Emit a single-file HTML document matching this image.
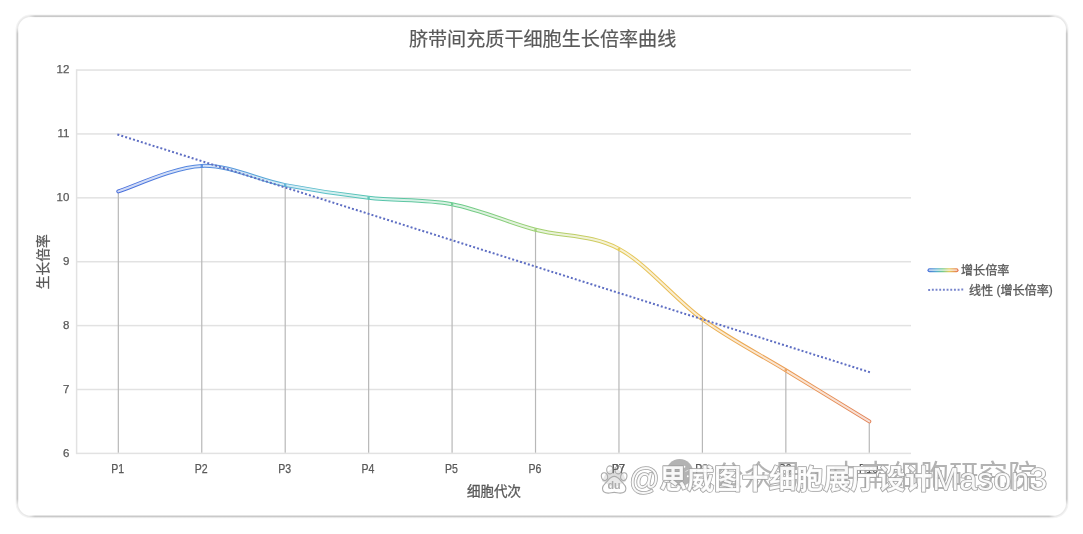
<!DOCTYPE html>
<html lang="zh">
<head>
<meta charset="utf-8">
<title>脐带间充质干细胞生长倍率曲线</title>
<style>
html,body{margin:0;padding:0;background:#fff;}
body{width:1083px;height:534px;overflow:hidden;font-family:"Liberation Sans",sans-serif;}
svg{display:block;}
.t{font-family:"Liberation Sans",sans-serif;font-size:12px;fill:#595959;stroke:#595959;stroke-width:0.25px;}
.w{font-family:"Liberation Sans",sans-serif;font-size:24px;fill:#fff;fill-opacity:0.9;stroke:#a2a2a2;stroke-width:1.6px;stroke-linejoin:round;paint-order:stroke;}
.c{font-family:"Liberation Sans","Noto Sans CJK SC",sans-serif;fill:#595959;stroke:#595959;}
</style>
</head>
<body>
<svg width="1083" height="534" viewBox="0 0 1083 534" style="will-change:transform">
<defs>
<linearGradient id="lg" gradientUnits="userSpaceOnUse" x1="118.3" y1="0" x2="869.3" y2="0">
<stop offset="0" stop-color="#4a6fdc"/>
<stop offset="0.111" stop-color="#558adf"/>
<stop offset="0.222" stop-color="#58b0d5"/>
<stop offset="0.28" stop-color="#5cc2c6"/>
<stop offset="0.333" stop-color="#55c3b2"/>
<stop offset="0.444" stop-color="#68ca8e"/>
<stop offset="0.555" stop-color="#9cd072"/>
<stop offset="0.666" stop-color="#e4cb5c"/>
<stop offset="0.777" stop-color="#ecb450"/>
<stop offset="0.888" stop-color="#eb9d56"/>
<stop offset="1" stop-color="#e2845a"/>
</linearGradient>
<linearGradient id="lgl" gradientUnits="userSpaceOnUse" x1="927.5" y1="0" x2="958.5" y2="0">
<stop offset="0" stop-color="#4a6fdc"/>
<stop offset="0.3" stop-color="#56b0cc"/>
<stop offset="0.5" stop-color="#78cc88"/>
<stop offset="0.7" stop-color="#e4cb5c"/>
<stop offset="1" stop-color="#e8704e"/>
</linearGradient>
<linearGradient id="eh" x1="0" y1="0" x2="1" y2="0">
<stop offset="0" stop-color="#c9c9c9" stop-opacity="0"/><stop offset="0.006" stop-color="#c9c9c9"/><stop offset="0.994" stop-color="#c9c9c9"/><stop offset="1" stop-color="#c9c9c9" stop-opacity="0"/>
</linearGradient>
<linearGradient id="ev" x1="0" y1="0" x2="0" y2="1">
<stop offset="0" stop-color="#c9c9c9" stop-opacity="0"/><stop offset="0.0125" stop-color="#c9c9c9"/><stop offset="0.9875" stop-color="#c9c9c9"/><stop offset="1" stop-color="#c9c9c9" stop-opacity="0"/>
</linearGradient>
</defs>
<rect x="17.4" y="16.25" width="1049.30" height="500.15" rx="13.5" ry="13.5" fill="none" stroke="#f3f3f3" stroke-width="3.6"/>
<rect x="17.4" y="16.25" width="1049.30" height="500.15" rx="13.5" ry="13.5" fill="#fff" stroke="#e9e9e9" stroke-width="1.3"/>
<rect x="28.90" y="15.40" width="1026.30" height="1.7" fill="url(#eh)"/>
<rect x="28.90" y="515.55" width="1026.30" height="1.7" fill="url(#eh)"/>
<rect x="16.55" y="27.75" width="1.7" height="477.15" fill="url(#ev)"/>
<rect x="1065.85" y="27.75" width="1.7" height="477.15" fill="url(#ev)"/>
<rect x="76.6" y="452.64" width="834.4" height="1.5" fill="#e2e2e2"/>
<rect x="76.6" y="388.75" width="834.4" height="1.5" fill="#e2e2e2"/>
<rect x="76.6" y="324.86" width="834.4" height="1.5" fill="#e2e2e2"/>
<rect x="76.6" y="260.97" width="834.4" height="1.5" fill="#e2e2e2"/>
<rect x="76.6" y="197.08" width="834.4" height="1.5" fill="#e2e2e2"/>
<rect x="76.6" y="133.19" width="834.4" height="1.5" fill="#e2e2e2"/>
<rect x="76.6" y="69.30" width="834.4" height="1.5" fill="#e2e2e2"/>
<rect x="75.85" y="69.30" width="1.5" height="384.84" fill="#e2e2e2"/>
<rect x="117.72" y="191.44" width="1.2" height="261.25" fill="#b8b8b8"/>
<rect x="201.16" y="165.88" width="1.2" height="286.81" fill="#b8b8b8"/>
<rect x="284.60" y="185.05" width="1.2" height="267.64" fill="#b8b8b8"/>
<rect x="368.04" y="197.83" width="1.2" height="254.86" fill="#b8b8b8"/>
<rect x="451.48" y="204.22" width="1.2" height="248.47" fill="#b8b8b8"/>
<rect x="534.92" y="229.77" width="1.2" height="222.92" fill="#b8b8b8"/>
<rect x="618.36" y="248.94" width="1.2" height="203.75" fill="#b8b8b8"/>
<rect x="701.80" y="319.22" width="1.2" height="133.47" fill="#b8b8b8"/>
<rect x="785.24" y="370.33" width="1.2" height="82.36" fill="#b8b8b8"/>
<rect x="868.68" y="421.44" width="1.2" height="31.25" fill="#b8b8b8"/>
<text x="69.4" y="456.74" text-anchor="end" class="t" style="font-size:11.5px">6</text>
<text x="69.4" y="392.85" text-anchor="end" class="t" style="font-size:11.5px">7</text>
<text x="69.4" y="328.96" text-anchor="end" class="t" style="font-size:11.5px">8</text>
<text x="69.4" y="265.07" text-anchor="end" class="t" style="font-size:11.5px">9</text>
<text x="69.4" y="201.18" text-anchor="end" class="t" style="font-size:11.5px">10</text>
<text x="69.4" y="137.29" text-anchor="end" class="t" style="font-size:11.5px">11</text>
<text x="69.4" y="73.40" text-anchor="end" class="t" style="font-size:11.5px">12</text>
<text x="117.72" y="472.7" text-anchor="middle" class="t" textLength="12.9" lengthAdjust="spacingAndGlyphs">P1</text>
<text x="201.16" y="472.7" text-anchor="middle" class="t" textLength="12.9" lengthAdjust="spacingAndGlyphs">P2</text>
<text x="284.60" y="472.7" text-anchor="middle" class="t" textLength="12.9" lengthAdjust="spacingAndGlyphs">P3</text>
<text x="368.04" y="472.7" text-anchor="middle" class="t" textLength="12.9" lengthAdjust="spacingAndGlyphs">P4</text>
<text x="451.48" y="472.7" text-anchor="middle" class="t" textLength="12.9" lengthAdjust="spacingAndGlyphs">P5</text>
<text x="534.92" y="472.7" text-anchor="middle" class="t" textLength="12.9" lengthAdjust="spacingAndGlyphs">P6</text>
<text x="618.36" y="472.7" text-anchor="middle" class="t" textLength="12.9" lengthAdjust="spacingAndGlyphs">P7</text>
<text x="701.80" y="472.7" text-anchor="middle" class="t" textLength="12.9" lengthAdjust="spacingAndGlyphs">P8</text>
<text x="785.24" y="472.7" text-anchor="middle" class="t" textLength="12.9" lengthAdjust="spacingAndGlyphs">P9</text>
<text x="868.68" y="472.7" text-anchor="middle" class="t" textLength="19.2" lengthAdjust="spacingAndGlyphs">P10</text>
<path d="M118.3 191.4C132.2 187.2 173.9 166.9 201.8 165.9C229.6 164.8 257.4 179.7 285.2 185.1C313 190.4 340.8 194.6 368.6 197.8C396.5 201 424.3 198.9 452.1 204.2C479.9 209.5 507.7 222.3 535.5 229.8C563.3 237.2 591.1 234 619 248.9C646.8 263.8 674.6 299 702.4 319.2C730.2 339.5 758 353.3 785.8 370.3C813.7 387.4 855.4 412.9 869.3 421.4" fill="none" stroke="url(#lg)" stroke-width="4" stroke-linecap="round" stroke-linejoin="round"/>
<path d="M118.3 191.4C132.2 187.2 173.9 166.9 201.8 165.9C229.6 164.8 257.4 179.7 285.2 185.1C313 190.4 340.8 194.6 368.6 197.8C396.5 201 424.3 198.9 452.1 204.2C479.9 209.5 507.7 222.3 535.5 229.8C563.3 237.2 591.1 234 619 248.9C646.8 263.8 674.6 299 702.4 319.2C730.2 339.5 758 353.3 785.8 370.3C813.7 387.4 855.4 412.9 869.3 421.4" fill="none" stroke="#fff" stroke-opacity="0.74" stroke-width="2" stroke-linecap="round"/>
<rect x="200.6" y="164.7" width="2.4" height="2.4" fill="url(#lg)" opacity="0.9"/>
<rect x="284" y="183.9" width="2.4" height="2.4" fill="url(#lg)" opacity="0.9"/>
<rect x="367.4" y="196.6" width="2.4" height="2.4" fill="url(#lg)" opacity="0.9"/>
<rect x="450.9" y="203" width="2.4" height="2.4" fill="url(#lg)" opacity="0.9"/>
<rect x="534.3" y="228.6" width="2.4" height="2.4" fill="url(#lg)" opacity="0.9"/>
<rect x="617.8" y="247.7" width="2.4" height="2.4" fill="url(#lg)" opacity="0.9"/>
<rect x="701.2" y="318" width="2.4" height="2.4" fill="url(#lg)" opacity="0.9"/>
<rect x="784.6" y="369.1" width="2.4" height="2.4" fill="url(#lg)" opacity="0.9"/>
<line x1="117.37" y1="134.47" x2="870.23" y2="372.36" stroke="#5e6ec3" stroke-width="2" stroke-dasharray="2 2.1"/>
<text x="408.9" y="46.3" class="c" style="font-size:19.1px;stroke-width:0.19px" textLength="267.4" lengthAdjust="spacingAndGlyphs">脐带间充质干细胞生长倍率曲线</text>
<text x="20.8" y="261.8" transform="rotate(-90 48.2 261.8)" class="c" style="font-size:13.7px;stroke-width:0.3px" textLength="54.8" lengthAdjust="spacingAndGlyphs">生长倍率</text>
<text x="467" y="496.2" class="c" style="font-size:13.5px;stroke-width:0.3px" textLength="54" lengthAdjust="spacingAndGlyphs">细胞代次</text>
<line x1="929.5" x2="956.5" y1="270.2" y2="270.2" stroke="url(#lgl)" stroke-width="4" stroke-linecap="round"/>
<line x1="929.5" x2="956.5" y1="270.2" y2="270.2" stroke="#fff" stroke-opacity="0.62" stroke-width="1.7" stroke-linecap="round"/>
<text x="961" y="274.9" class="c" style="font-size:12.1px;stroke-width:0.3px" textLength="48.4" lengthAdjust="spacingAndGlyphs">增长倍率</text>
<path d="M928.2 289.9L963.4 289.6" fill="none" stroke="#5e6ec3" stroke-width="2" stroke-dasharray="1.9 1.78" opacity="0.85"/>
<text x="969" y="294.8" class="c" style="font-size:12.1px;stroke-width:0.3px" textLength="24.2" lengthAdjust="spacingAndGlyphs">线性</text>
<text x="996.4" y="294.4" class="t" style="font-size:12px">(</text>
<text x="1000.4" y="294.8" class="c" style="font-size:12.1px;stroke-width:0.3px" textLength="48.4" lengthAdjust="spacingAndGlyphs">增长倍率</text>
<text x="1048.8" y="294.4" class="t" style="font-size:12px">)</text>
<circle cx="679.65" cy="472.7" r="13.6" fill="#b3b3b3"/>
<circle cx="684.4" cy="466.7" r="1" fill="#fff"/><circle cx="687.8" cy="476.3" r="1" fill="#fff"/><path d="M685.400 471.600l3.200-1.700" stroke="#fff" stroke-width="0.7" opacity="0.8"/>
<text x="714.3" y="485.7" style="font-family:'Liberation Sans','Noto Sans CJK SC',sans-serif;font-size:29.4px;fill:#b3b3b3" textLength="88.2" lengthAdjust="spacingAndGlyphs">公众号</text>
<circle cx="816.9" cy="474.5" r="2.3" fill="#b3b3b3"/>
<text x="831.5" y="485.7" style="font-family:'Liberation Sans','Noto Sans CJK SC',sans-serif;font-size:29.4px;fill:#b3b3b3" textLength="205.8" lengthAdjust="spacingAndGlyphs">中南细胞研究院</text>
<text x="629.3" y="489.7" class="w" style="font-size:31.2px" textLength="30.4" lengthAdjust="spacingAndGlyphs">@</text>
<text x="659.5" y="489.3" class="w" style="font-family:'Liberation Sans','Noto Sans CJK SC',sans-serif;font-size:27.7px;font-weight:bold" textLength="273" lengthAdjust="spacingAndGlyphs">思威图十细胞展厅设计</text>
<text x="932.3" y="490.3" class="w" style="font-size:31.8px" textLength="115" lengthAdjust="spacingAndGlyphs">Mason3</text>
<g>
<path d="M606 473l8.500-6 8.500 6 3 8-12 7-12-7z" fill="#dcdcdc"/>
<g fill="#fff" fill-opacity="0.35" stroke="#ababab" stroke-width="1.1">
<ellipse cx="604.5" cy="476.600" rx="3.100" ry="3.900" transform="rotate(-12 604.500 476.600)"/>
<ellipse cx="609.9" cy="469.900" rx="3.200" ry="4" transform="rotate(-4 609.900 469.900)"/>
<ellipse cx="618.3" cy="469.900" rx="3.200" ry="4" transform="rotate(4 618.300 469.900)"/>
<ellipse cx="623.8" cy="476.600" rx="3.100" ry="3.900" transform="rotate(12 623.800 476.600)"/>
<path d="M614.2 476.400c3.300 0 5.200 2.700 7.100 5 2.100 2.400 4.600 3.800 4.600 6.800 0 3.300-2.700 4.900-5.700 4.900-2.300 0-3.900-.7-6-.7s-3.700.7-6 .7c-3 0-5.700-1.600-5.700-4.900 0-3 2.500-4.400 4.600-6.800 1.900-2.300 3.800-5 7.100-5z"/>
</g>
<text x="614" y="489.300" text-anchor="middle" style="font:bold 10.800px 'Liberation Sans',sans-serif;fill:#adadad">du</text>
</g>
<text x="618.36" y="472.7" text-anchor="middle" class="t" textLength="12.9" lengthAdjust="spacingAndGlyphs" opacity="0.85">P7</text>
</svg>
</body>
</html>
